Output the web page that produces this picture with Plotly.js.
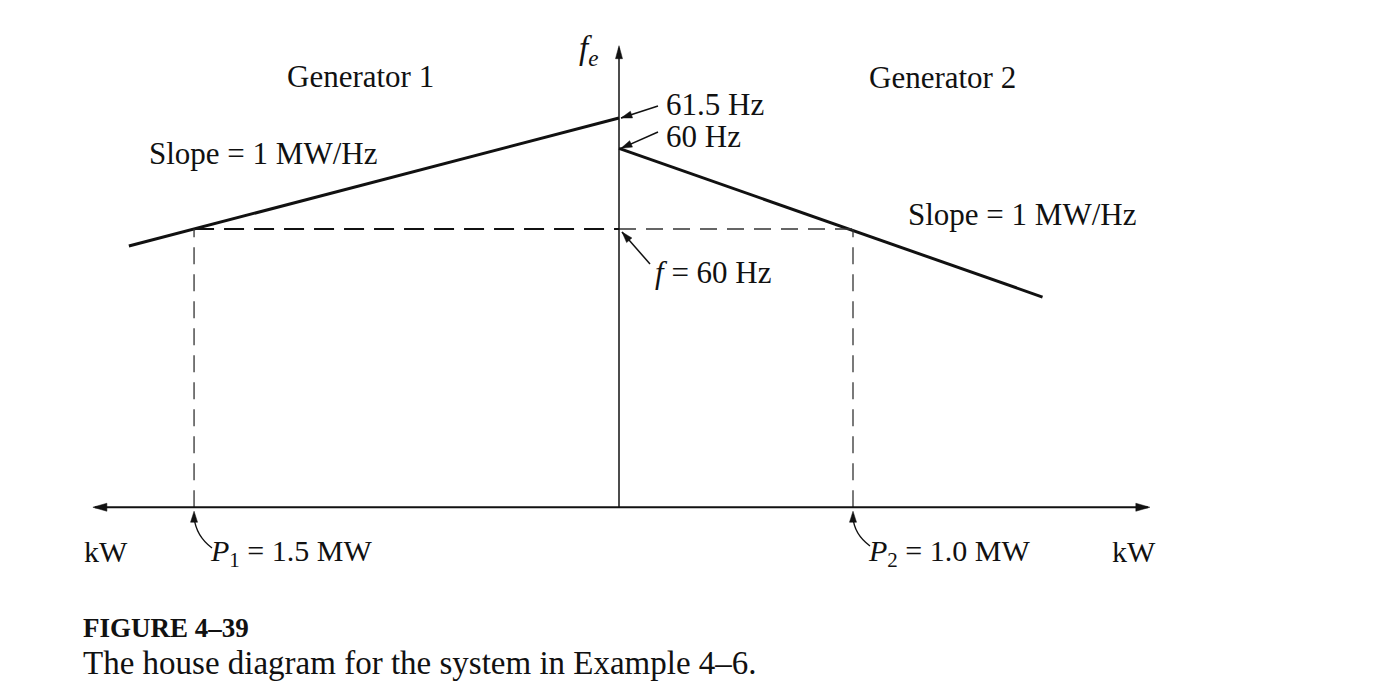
<!DOCTYPE html>
<html><head><meta charset="utf-8">
<script src="https://cdn.plot.ly/plotly-3.0.1.min.js"></script>
<style>html,body{margin:0;padding:0;background:#fff}#chart{width:1378px;height:696px}</style>
</head><body><div id="chart"></div>
<script>
// ---- Data (power in MW, frequency in Hz) ----
const gen1P = [1.73, 0];          // generator 1 droop line (drawn leftwards)
const gen1F = [59.77, 61.5];
const gen2P = [0, 1.81];          // generator 2 droop line (drawn rightwards)
const gen2F = [61.09, 59.08];
const sysFreq = 60;               // operating frequency
const P1 = 1.5;                   // generator 1 output
const P2 = 1.0;                   // generator 2 output
const axisFreq = 56.24;           // level at which the power axis lies
const fAxisTop = 62.45;           // top of the frequency axis
const pAxisLeftEnd = 1.85;        // extent of power axis, gen 1 side
const pAxisRightEnd = 2.26;       // extent of power axis, gen 2 side

// ---- Layout scaling (pixels) ----
const W = 1378, H = 696;
const originPx = 619, sysPx = 229, pxPerHz = 74, pxPerMW1 = 283.3, pxPerMW2 = 234;
const X = p => p / W, Y = p => 1 - p / H;
const px1 = p => originPx - p * pxPerMW1;   // gen 1 power -> pixel x
const px2 = p => originPx + p * pxPerMW2;   // gen 2 power -> pixel x
const pyF = f => sysPx - (f - sysFreq) * pxPerHz; // frequency -> pixel y
const FONT = "Liberation Serif, 'Times New Roman', serif";
const black = '#111';

const traces = [
  {x: gen1P, y: gen1F, xaxis: 'x', yaxis: 'y', mode: 'lines', line: {color: black, width: 3}},
  {x: gen2P, y: gen2F, xaxis: 'x2', yaxis: 'y', mode: 'lines', line: {color: black, width: 3}},
  {x: [P1, 0], y: [sysFreq, sysFreq], xaxis: 'x', yaxis: 'y', mode: 'lines', line: {color: black, width: 1.8, dash: '20px,10px'}},
  {x: [0, P2], y: [sysFreq, sysFreq], xaxis: 'x2', yaxis: 'y', mode: 'lines', line: {color: '#333', width: 1.3, dash: '17px,10px'}},
  {x: [P1, P1], y: [axisFreq, sysFreq], xaxis: 'x', yaxis: 'y', mode: 'lines', line: {color: '#333', width: 1.3, dash: '17px,10px'}},
  {x: [P2, P2], y: [axisFreq, sysFreq], xaxis: 'x2', yaxis: 'y', mode: 'lines', line: {color: '#333', width: 1.3, dash: '17px,10px'}},
  {x: [0, 0], y: [axisFreq, fAxisTop], xaxis: 'x2', yaxis: 'y', mode: 'lines', line: {color: black, width: 1.5}},
  {x: [0, pAxisLeftEnd], y: [axisFreq, axisFreq], xaxis: 'x', yaxis: 'y', mode: 'lines', line: {color: black, width: 2.2}},
  {x: [0, pAxisRightEnd], y: [axisFreq, axisFreq], xaxis: 'x2', yaxis: 'y', mode: 'lines', line: {color: black, width: 2.2}}
];
traces.forEach(t => { t.hoverinfo = 'skip'; t.showlegend = false; });

function txt(text, xp, yp, anchor, size, extra) {
  return Object.assign({text: text, xref: 'paper', yref: 'paper', x: X(xp), y: Y(yp),
    xanchor: anchor, yanchor: 'middle', showarrow: false,
    font: {family: FONT, size: size, color: black}}, extra || {});
}

// filled arrowhead at (hx,hy) pointing along direction (dx,dy) -- pixel units
function head(hx, hy, dx, dy, len, hw) {
  const n = Math.hypot(dx, dy), ux = dx / n, uy = dy / n;
  const bx = hx - ux * len, by = hy - uy * len;
  const p1 = [bx - uy * hw, by + ux * hw], p2 = [bx + uy * hw, by - ux * hw];
  return {type: 'path', xref: 'paper', yref: 'paper', fillcolor: black, line: {color: black, width: 0.5},
    path: `M ${X(hx)} ${Y(hy)} L ${X(p1[0])} ${Y(p1[1])} L ${X(p2[0])} ${Y(p2[1])} Z`};
}
function straightArrow(tx, ty, hx, hy) {
  return [
    {type: 'line', xref: 'paper', yref: 'paper', x0: X(tx), y0: Y(ty), x1: X(hx), y1: Y(hy), line: {color: black, width: 1.5}},
    head(hx, hy, hx - tx, hy - ty, 11, 3.5)
  ];
}
function curvedArrow(tx, ty, cx, cy, hx, hy) {
  return [
    {type: 'path', xref: 'paper', yref: 'paper', line: {color: black, width: 1.4},
     path: `M ${X(tx)} ${Y(ty)} Q ${X(cx)} ${Y(cy)} ${X(hx)} ${Y(hy + 6)}`},
    head(hx, hy, 0, -1, 11, 3.5)
  ];
}

const axisY = pyF(axisFreq);
const shapes = [].concat(
  head(px1(pAxisLeftEnd) - 2, axisY, -1, 0, 14, 4),
  head(px2(pAxisRightEnd) + 2, axisY, 1, 0, 14, 4),
  head(originPx, pyF(fAxisTop) - 2, 0, -1, 13, 3.5),
  straightArrow(658, 106, originPx + 2, pyF(gen1F[1])),
  straightArrow(658, 132, originPx + 2, pyF(gen2F[0])),
  straightArrow(650, 264, originPx + 3, pyF(sysFreq) + 3),
  curvedArrow(212, 548, 196, 536, px1(P1), axisY + 4),
  curvedArrow(870, 546, 854, 534, px2(P2), axisY + 4)
);

const annotations = [
  txt('Generator 1', 360, 76, 'center', 31),
  txt('Generator 2', 943, 78, 'center', 31),
  txt('Slope = 1 MW/Hz', 263, 153, 'center', 31),
  txt('Slope = 1 MW/Hz', 1022, 214, 'center', 31),
  txt('61.5 Hz', 664, 104, 'left', 31),
  txt('60 Hz', 664, 136, 'left', 31),
  txt('<i>f</i> = 60 Hz', 653, 272, 'left', 31),
  txt('<i>f<sub>e</sub></i>', 588, 50, 'center', 33),
  txt('kW', 82, 551, 'left', 30),
  txt('kW', 1110, 551, 'left', 30),
  txt('<i>P</i><sub>1</sub> = 1.5 MW', 208, 553, 'left', 30),
  txt('<i>P</i><sub>2</sub> = 1.0 MW', 866, 553, 'left', 30),
  txt('<b>FIGURE 4–39</b>', 81, 628, 'left', 27),
  txt('The house diagram for the system in Example 4–6.', 81, 663, 'left', 33)
];

const layout = {
  width: W, height: H,
  margin: {l: 0, r: 0, t: 0, b: 0},
  paper_bgcolor: '#fff', plot_bgcolor: '#fff',
  showlegend: false,
  xaxis: {range: [originPx / pxPerMW1, -(W - originPx) / pxPerMW1], visible: false, fixedrange: true},
  xaxis2: {range: [-originPx / pxPerMW2, (W - originPx) / pxPerMW2], overlaying: 'x', anchor: 'y', visible: false, fixedrange: true},
  yaxis: {range: [sysFreq - (H - sysPx) / pxPerHz, sysFreq + sysPx / pxPerHz], visible: false, fixedrange: true},
  annotations: annotations,
  shapes: shapes
};

Plotly.newPlot('chart', traces, layout, {displayModeBar: false, staticPlot: true});
</script>
</body></html>
